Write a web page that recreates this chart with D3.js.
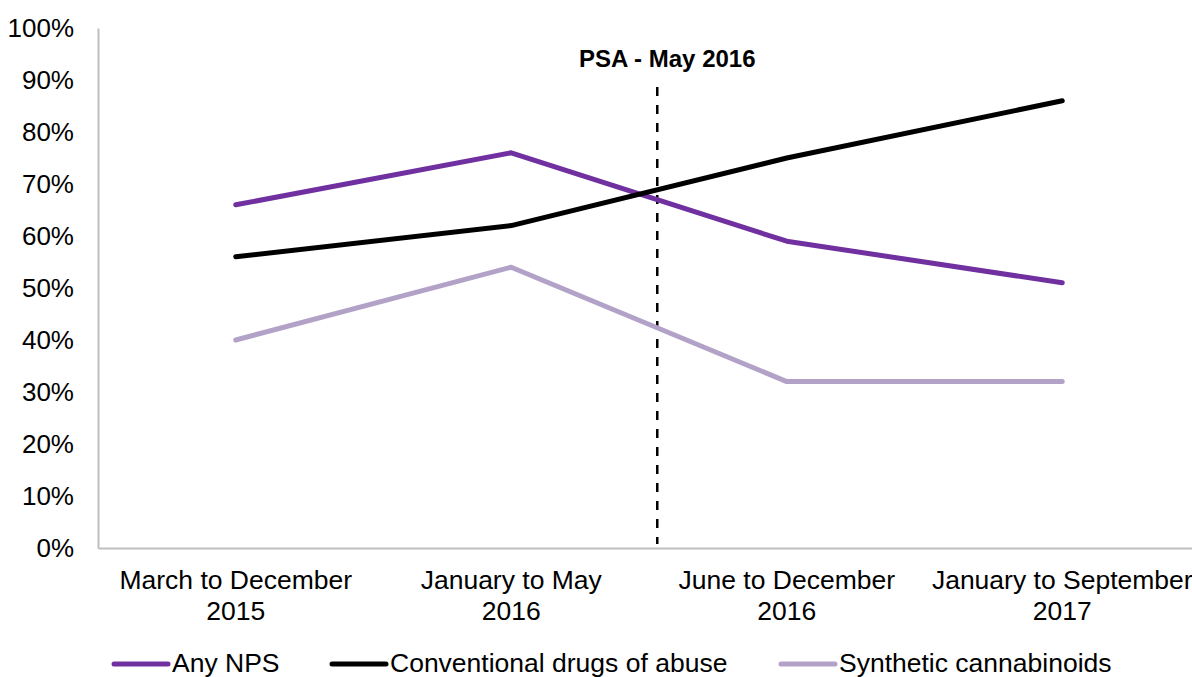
<!DOCTYPE html>
<html>
<head>
<meta charset="utf-8">
<script src="https://cdn.jsdelivr.net/npm/d3@7"></script>
<style>
  body { margin: 0; background: #fff; overflow: hidden; }
  svg { font-family: "Liberation Sans", Arial, sans-serif; display: block; }
</style>
</head>
<body>
<div id="chart"></div>
<script>
  'use strict';

  // Data
  var periods = [
    ['March to December', '2015'],
    ['January to May', '2016'],
    ['June to December', '2016'],
    ['January to September', '2017']
  ];
  var seriesNames = ['Any NPS', 'Conventional drugs of abuse', 'Synthetic cannabinoids'];
  var anyNps = [66, 76, 59, 51];
  var conventional = [56, 62, 75, 86];
  var synthetic = [40, 54, 32, 32];
  var yTicks = [0, 10, 20, 30, 40, 50, 60, 70, 80, 90, 100];
  var psaLabel = 'PSA - May 2016';
  var psaPosition = 1.53; // in category units, between Jan-May 2016 and Jun-Dec 2016

  (function () {
    var W = 1192, H = 677,
        plotLeft = 98, plotRight = 1200, plotTop = 28, plotBottom = 548;

    var colors = ['#7030a0', '#000000', '#b3a2c7'];
    var series = [anyNps, conventional, synthetic];

    var svg = d3.select('#chart').append('svg')
      .attr('width', W)
      .attr('height', H);

    var x = d3.scaleBand()
      .domain(d3.range(periods.length))
      .range([plotLeft, plotRight]);

    var xPos = function (i) { return x(i) + x.bandwidth() / 2; };
    var xLin = d3.scaleLinear()
      .domain([0, periods.length - 1])
      .range([xPos(0), xPos(periods.length - 1)]);

    var y = d3.scaleLinear()
      .domain([0, 100])
      .range([plotBottom, plotTop]);

    // y axis
    var yAxis = svg.append('g')
      .attr('transform', 'translate(' + plotLeft + ',0)')
      .call(d3.axisLeft(y).tickValues(yTicks).tickSize(0).tickPadding(24)
        .tickFormat(function (d) { return d + '%'; }));
    yAxis.select('.domain').attr('stroke', '#bfbfbf').attr('stroke-width', 2);
    yAxis.selectAll('text')
      .attr('font-size', 26)
      .attr('fill', '#000')
      .attr('font-family', '"Liberation Sans", Arial, sans-serif');

    // x axis
    var xAxis = svg.append('g')
      .attr('transform', 'translate(0,' + plotBottom + ')')
      .call(d3.axisBottom(x).tickSize(0).tickFormat(''));
    xAxis.select('.domain').attr('stroke', '#bfbfbf').attr('stroke-width', 2);
    xAxis.selectAll('.tick').each(function (d) {
      var t = d3.select(this).append('text')
        .attr('fill', '#000')
        .attr('font-size', 26.5)
        .attr('text-anchor', 'middle')
        .attr('font-family', '"Liberation Sans", Arial, sans-serif');
      t.append('tspan').attr('x', 0).attr('y', 40.5).text(periods[d][0]);
      t.append('tspan').attr('x', 0).attr('y', 71.5).text(periods[d][1]);
    });

    // PSA marker
    svg.append('line')
      .attr('x1', xLin(psaPosition))
      .attr('x2', xLin(psaPosition))
      .attr('y1', 87)
      .attr('y2', plotBottom - 4)
      .attr('stroke', '#000')
      .attr('stroke-width', 2.5)
      .attr('stroke-dasharray', '9,9');

    svg.append('text')
      .attr('x', xLin(psaPosition) + 10)
      .attr('y', 67)
      .attr('text-anchor', 'middle')
      .attr('font-size', 24)
      .attr('font-weight', 'bold')
      .text(psaLabel);

    // lines
    var line = d3.line()
      .x(function (d, i) { return xPos(i); })
      .y(function (d) { return y(d); });

    svg.selectAll('path.series')
      .data(series)
      .enter()
      .append('path')
        .attr('class', 'series')
        .attr('d', line)
        .attr('fill', 'none')
        .attr('stroke', function (d, i) { return colors[i]; })
        .attr('stroke-width', 5)
        .attr('stroke-linejoin', 'round')
        .attr('stroke-linecap', 'round');

    // legend
    var legendX = [114, 332, 781];
    var legendLen = 54;
    var legend = svg.selectAll('g.legend')
      .data(seriesNames)
      .enter()
      .append('g')
        .attr('class', 'legend')
        .attr('transform', function (d, i) { return 'translate(' + legendX[i] + ',664)'; });

    legend.append('line')
      .attr('x1', 0)
      .attr('x2', legendLen)
      .attr('stroke', function (d, i) { return colors[i]; })
      .attr('stroke-width', 5)
      .attr('stroke-linecap', 'round');

    legend.append('text')
      .attr('x', legendLen + 4)
      .attr('y', 8)
      .attr('font-size', 26.5)
      .text(function (d) { return d; });
  })();
</script>
</body>
</html>
